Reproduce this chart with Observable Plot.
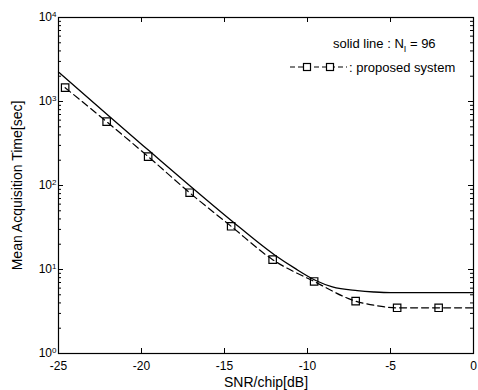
<!DOCTYPE html>
<html><head><meta charset="utf-8">
<script src="https://cdn.jsdelivr.net/npm/d3@7"></script>
<script src="https://cdn.jsdelivr.net/npm/@observablehq/plot@0.6"></script>
<style>
body{margin:0;background:#fff}
svg{font-family:"Liberation Sans",Arial,sans-serif}
</style>
</head><body><div id="chart"></div>
<script>
// Solid line: N_I = 96
const solidSnr  = [-25, -22, -19.5, -17, -14.5, -12, -10.75, -9.5, -8.5, -7, -6, -5, -2.5, 0];
const solidTime = [2240, 680, 255, 96, 37, 15, 10.3, 7.4, 6.2, 5.6, 5.4, 5.3, 5.3, 5.3];
// Dashed line: proposed system
const propLineSnr  = [-24.6, -22.1, -19.6, -17.1, -14.6, -12.1, -9.6, -7.1, -5.8, -4.6, -2.1, 0];
const propLineTime = [1460, 575, 221, 82, 32.7, 13.1, 7.2, 4.2, 3.7, 3.5, 3.5, 3.5];
// Square markers of the proposed system
const markerSnr  = [-24.6, -22.1, -19.6, -17.1, -14.6, -12.1, -9.6, -7.1, -4.6, -2.1];
const markerTime = [1460, 575, 221, 82, 32.7, 13.1, 7.2, 4.2, 3.5, 3.5];
// Axis ticks
const xTicks = [-25, -20, -15, -10, -5, 0];
const yTicks = [1, 10, 100, 1000, 10000];

const solid = solidSnr.map((x, i) => ({x, y: solidTime[i]}));
const propLine = propLineSnr.map((x, i) => ({x, y: propLineTime[i]}));
const markers = markerSnr.map((x, i) => ({x, y: markerTime[i]}));

const yMinor = [];
for (let e = 0; e < 4; e++) for (let m = 2; m <= 9; m++) yMinor.push(m * 10 ** e);

const W = 478, H = 390, mL = 58, mR = 5, mT = 17, mB = 37;
const pxPerDb = (W - mL - mR) / 25;
const pxPerDec = (H - mT - mB) / 4;
const dxMaj = 5 / pxPerDb, dyMaj = 10 ** (5 / pxPerDec), dyMin = 10 ** (3 / pxPerDec), dxMin = 3 / pxPerDb;

const plot = Plot.plot({
  width: W, height: H,
  marginLeft: mL, marginRight: mR, marginTop: mT, marginBottom: mB,
  style: {fontSize: "12px", fontFamily: "'Liberation Sans', Arial, sans-serif", color: "#000", background: "#fff"},
  x: {domain: [-25, 0]},
  y: {type: "log", domain: [1, 10000]},
  marks: [
    Plot.frame({stroke: "#000", strokeWidth: 1.2}),
    // inward ticks
    Plot.ruleX(xTicks, {x: d => d, y1: 1, y2: dyMaj, stroke: "#000"}),
    Plot.ruleX(xTicks, {x: d => d, y1: 10000, y2: 10000 / dyMaj, stroke: "#000"}),
    Plot.ruleY(yTicks, {y: d => d, x1: -25, x2: -25 + dxMaj, stroke: "#000"}),
    Plot.ruleY(yTicks, {y: d => d, x1: 0, x2: -dxMaj, stroke: "#000"}),
    Plot.ruleY(yMinor, {y: d => d, x1: -25, x2: -25 + dxMin, stroke: "#000"}),
    Plot.ruleY(yMinor, {y: d => d, x1: 0, x2: -dxMin, stroke: "#000"}),
    Plot.axisX({ticks: xTicks, tickSize: 0, tickPadding: 8, tickFormat: d => String(d), label: null, fontSize: 12}),
    Plot.axisX({ticks: [], label: "SNR/chip[dB]", labelAnchor: "center", labelArrow: "none", labelOffset: 33, fontSize: 14}),
    Plot.axisY({ticks: yTicks, tickSize: 0, tickPadding: 6, tickFormat: d => String(Math.round(Math.log10(d))), label: null, fontSize: 12}),
    Plot.axisY({ticks: [], label: "Mean Acquisition Time[sec]", labelAnchor: "center", labelArrow: "none", labelOffset: 46, fontSize: 14}),
    Plot.line(solid, {x: "x", y: "y", stroke: "#000", strokeWidth: 1.3, curve: "monotone-x"}),
    Plot.line(propLine, {x: "x", y: "y", stroke: "#000", strokeWidth: 1.2, strokeDasharray: "7,4", curve: "monotone-x"}),
    Plot.dot(markers, {x: "x", y: "y", symbol: "square", r: 4.2, stroke: "#000", strokeWidth: 1.2, fill: "none"})
  ]
});
document.getElementById("chart").append(plot);

// superscript exponents on y tick labels
d3.select(plot).selectAll('g[aria-label="y-axis tick label"] text').each(function() {
  const t = d3.select(this);
  const exp = t.text();
  t.text(null);
  t.append("tspan").text("10");
  t.append("tspan").attr("dy", "-0.5em").attr("font-size", "8px").text(exp);
  t.attr("dx", (+t.attr("dx") || 0) + 4);
});

// legend
const svg = d3.select(plot);
const lg = svg.append("g").attr("font-size", 13).attr("fill", "#000").attr("text-anchor", "start");
const l1 = lg.append("text").attr("x", 333).attr("y", 48);
l1.append("tspan").text("solid line : N");
l1.append("tspan").attr("dy", 4).attr("font-size", 9).text("I");
l1.append("tspan").attr("dy", -4).text(" = 96");
lg.append("line").attr("x1", 290).attr("x2", 347).attr("y1", 67).attr("y2", 67)
  .attr("stroke", "#000").attr("stroke-width", 1.2).attr("stroke-dasharray", "5,3");
for (const cx of [307, 330]) {
  lg.append("rect").attr("x", cx - 3.5).attr("y", 63.5).attr("width", 7).attr("height", 7)
    .attr("fill", "#fff").attr("stroke", "#000").attr("stroke-width", 1.2);
}
lg.append("text").attr("x", 349).attr("y", 72).text(": proposed system");
</script>
</body></html>
